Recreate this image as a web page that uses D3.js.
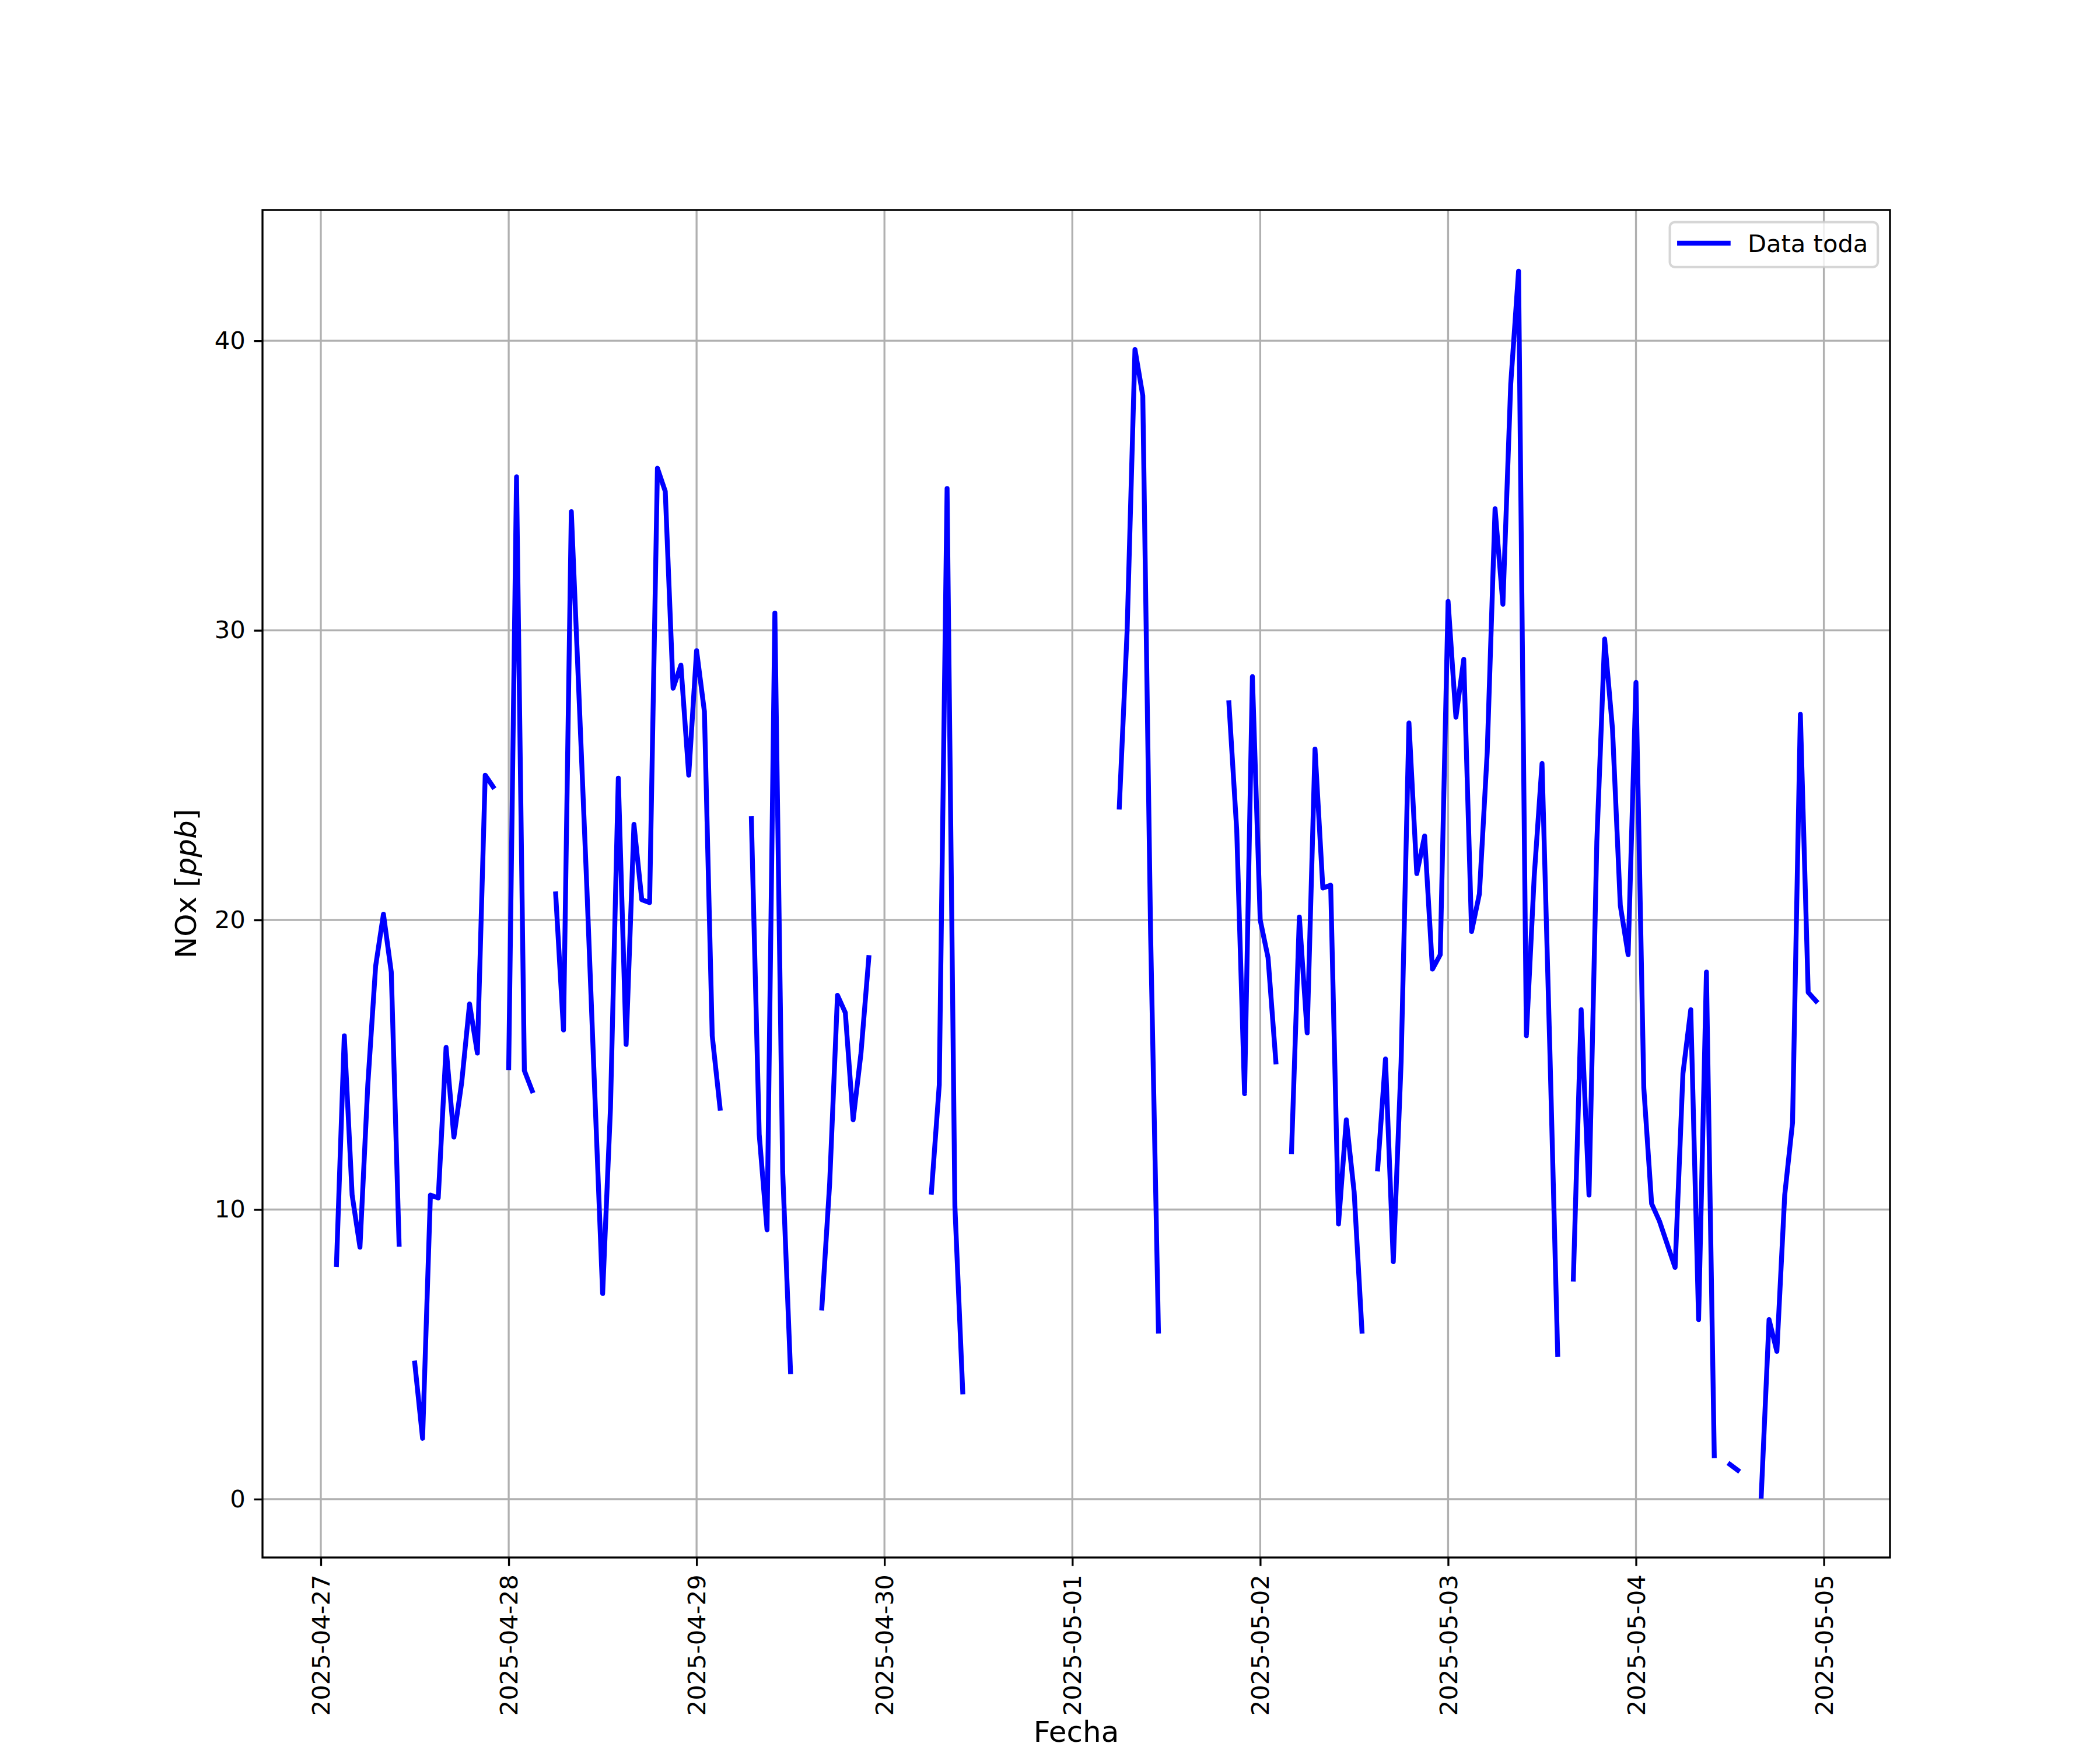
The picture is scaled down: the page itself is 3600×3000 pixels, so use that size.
<!DOCTYPE html>
<html>
<head>
<meta charset="utf-8">
<script src="https://cdn.jsdelivr.net/npm/d3@7"></script>
<style>
  body { margin: 0; background: #fff; }
  svg text { font-family: "DejaVu Sans", sans-serif; fill: #000; }
</style>
</head>
<body>
<div id="chart"></div>
<script>
// hourly NOx [ppb], first value at 2025-04-27 00:00 UTC, null = no data
const startTime = Date.UTC(2025, 3, 27, 0);
const hourMs = 3600 * 1000;

const nox0427 = [null, null, 8.1, 16.0, 10.5, 8.7, 14.3, 18.4, 20.2, 18.2, 8.8, null,
                 4.7, 2.1, 10.5, 10.4, 15.6, 12.5, 14.4, 17.1, 15.4, 25.0, 24.6, null];
const nox0428 = [14.9, 35.3, 14.8, 14.1, null, null, 20.9, 16.2, 34.1, 27.6, 21.0, 14.0,
                 7.1, 13.5, 24.9, 15.7, 23.3, 20.7, 20.6, 35.6, 34.8, 28.0, 28.8, 25.0];
const nox0429 = [29.3, 27.2, 16.0, 13.5, null, null, null, 23.5, 12.6, 9.3, 30.6, 11.3,
                 4.4, null, null, null, 6.6, 10.9, 17.4, 16.8, 13.1, 15.4, 18.7, null];
const nox0430 = [null, null, null, null, null, null, 10.6, 14.3, 34.9, 10.1, 3.7, null,
                 null, null, null, null, null, null, null, null, null, null, null, null];
const nox0501 = [null, null, null, null, null, null, 23.9, 30.0, 39.7, 38.1, 19.5, 5.8,
                 null, null, null, null, null, null, null, null, 27.5, 23.1, 14.0, 28.4];
const nox0502 = [20.0, 18.7, 15.1, null, 12.0, 20.1, 16.1, 25.9, 21.1, 21.2, 9.5, 13.1,
                 10.6, 5.8, null, 11.4, 15.2, 8.2, 15.1, 26.8, 21.6, 22.9, 18.3, 18.8];
const nox0503 = [31.0, 27.0, 29.0, 19.6, 20.9, 25.8, 34.2, 30.9, 38.5, 42.4, 16.0, 21.5,
                 25.4, 15.5, 5.0, null, 7.6, 16.9, 10.5, 22.7, 29.7, 26.6, 20.5, 18.8];
const nox0504 = [28.2, 14.2, 10.2, 9.6, 8.8, 8.0, 14.7, 16.9, 6.2, 18.2, 1.5, null,
                 1.2, 1.0, null, null, 0.1, 6.2, 5.1, 10.5, 13.0, 27.1, 17.5, 17.2];

const noxValues = [].concat(nox0427, nox0428, nox0429, nox0430, nox0501, nox0502, nox0503, nox0504);

const dayTicks = ['2025-04-27', '2025-04-28', '2025-04-29', '2025-04-30', '2025-05-01',
                  '2025-05-02', '2025-05-03', '2025-05-04', '2025-05-05'];
const yTicks = [0, 10, 20, 30, 40];
const seriesName = 'Data toda';
const xLabel = 'Fecha';

const width = 3600, height = 3000;
const pt = 300 / 72;
const margin = { top: 360, right: 360, bottom: 330, left: 450 };
const innerW = width - margin.left - margin.right;
const innerH = height - margin.top - margin.bottom;
const fs = 10 * pt;

const data = noxValues.map((v, i) => ({ date: new Date(startTime + i * hourMs), value: v }));
const defined = data.filter(d => d.value != null);

// matplotlib style 5% margins
const pad = (ext) => {
  const m = (ext[1] - ext[0]) * 0.05;
  return [ext[0] - m, ext[1] + m];
};
const xExt = pad(d3.extent(defined, d => +d.date));
const yExt = pad(d3.extent(defined, d => d.value));

const x = d3.scaleUtc().domain(xExt.map(t => new Date(t))).range([0, innerW]);
const y = d3.scaleLinear().domain(yExt).range([innerH, 0]);

const parseDay = d3.utcParse('%Y-%m-%d');
const fmtDay = d3.utcFormat('%Y-%m-%d');
const dayDates = dayTicks.map(parseDay);

const svg = d3.select('#chart').append('svg')
  .attr('width', width).attr('height', height)
  .attr('viewBox', `0 0 ${width} ${height}`);

svg.append('rect').attr('width', width).attr('height', height).attr('fill', '#fff');

const g = svg.append('g').attr('transform', `translate(${margin.left},${margin.top})`);

// grid
const grid = g.append('g');
grid.selectAll('line.vx').data(dayDates).join('line')
  .attr('x1', d => x(d)).attr('x2', d => x(d))
  .attr('y1', 0).attr('y2', innerH);
grid.selectAll('line.hy').data(yTicks).join('line')
  .attr('x1', 0).attr('x2', innerW)
  .attr('y1', d => y(d)).attr('y2', d => y(d));
grid.selectAll('line').attr('stroke', '#b0b0b0').attr('stroke-width', 0.8 * pt);

// series
const line = d3.line()
  .defined(d => d.value != null)
  .x(d => x(d.date))
  .y(d => y(d.value));

g.append('path').datum(data)
  .attr('d', line)
  .attr('fill', 'none')
  .attr('stroke', '#0000ff')
  .attr('stroke-width', 2 * pt)
  .attr('stroke-linejoin', 'round')
  .attr('stroke-linecap', 'square');

// axes
const tickLen = 3.5 * pt;

const xAxis = g.append('g')
  .attr('transform', `translate(0,${innerH})`)
  .call(d3.axisBottom(x).tickValues(dayDates).tickFormat(fmtDay)
    .tickSize(tickLen).tickSizeOuter(0));

xAxis.selectAll('text')
  .attr('x', null).attr('y', null).attr('dy', '0.35em')
  .attr('transform', `translate(0,${tickLen * 2}) rotate(-90)`)
  .attr('text-anchor', 'end');

const yAxis = g.append('g')
  .call(d3.axisLeft(y).tickValues(yTicks).tickFormat(d3.format('d'))
    .tickSize(tickLen).tickPadding(tickLen).tickSizeOuter(0));

[xAxis, yAxis].forEach(ax => {
  ax.select('.domain').remove();
  ax.selectAll('line').attr('stroke', '#000').attr('stroke-width', 0.8 * pt);
  ax.selectAll('text').attr('font-size', fs).attr('font-family', 'DejaVu Sans').attr('fill', '#000');
});

// spines
g.append('rect')
  .attr('width', innerW).attr('height', innerH)
  .attr('fill', 'none').attr('stroke', '#000').attr('stroke-width', 0.8 * pt);

// axis labels
svg.append('text')
  .attr('x', margin.left + innerW / 2).attr('y', 2986)
  .attr('text-anchor', 'middle').attr('font-size', 12 * pt)
  .text(xLabel);

const yl = svg.append('text')
  .attr('transform', `translate(336,${margin.top + innerH / 2}) rotate(-90)`)
  .attr('text-anchor', 'middle').attr('font-size', 12 * pt);
yl.append('tspan').text('NOx [');
yl.append('tspan').attr('font-style', 'italic').text('ppb');
yl.append('tspan').text(']');

// legend
const legW = 356.6, legH = 77;
const legend = g.append('g')
  .attr('transform', `translate(${innerW - fs * 0.5 - legW},${fs * 0.5})`);

legend.append('rect')
  .attr('width', legW).attr('height', legH)
  .attr('rx', 0.2 * fs).attr('ry', 0.2 * fs)
  .attr('fill', '#fff').attr('fill-opacity', 0.8)
  .attr('stroke', '#cccccc').attr('stroke-opacity', 0.8)
  .attr('stroke-width', pt);

legend.append('line')
  .attr('x1', fs * 0.4).attr('x2', fs * 2.4)
  .attr('y1', 36).attr('y2', 36)
  .attr('stroke', '#0000ff').attr('stroke-width', 2 * pt)
  .attr('stroke-linecap', 'square');

legend.append('text')
  .attr('x', fs * 3.2).attr('y', 51)
  .attr('font-size', fs)
  .text(seriesName);
</script>
</body>
</html>
